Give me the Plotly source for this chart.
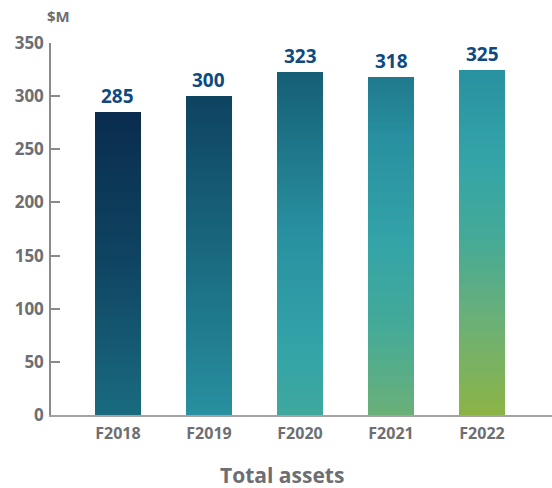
import numpy as np
import plotly.graph_objects as go

# ---- data ----
categories = ["F2018", "F2019", "F2020", "F2021", "F2022"]
values = [285, 300, 323, 318, 325]
y_ticks = [0, 50, 100, 150, 200, 250, 300, 350]
unit_label = "$M"
chart_title = "Total assets"

# ---- style ----
grad_stops = [
    (0.00, "#0a2c4e"),
    (0.15, "#0f4562"),
    (0.30, "#1a6b80"),
    (0.45, "#2890a0"),
    (0.60, "#34a4a8"),
    (0.72, "#44aa98"),
    (0.85, "#6ab078"),
    (1.00, "#8cb446"),
]
t_top = [0.00, 0.14, 0.25, 0.36, 0.46]
t_bot = [0.30, 0.45, 0.68, 0.85, 1.00]

def hex2rgb(h):
    h = h.lstrip("#")
    return np.array([int(h[i:i + 2], 16) for i in (0, 2, 4)], dtype=float)

stop_pos = np.array([s[0] for s in grad_stops])
stop_rgb = np.array([hex2rgb(s[1]) for s in grad_stops])

def grad_color(t):
    r = [np.interp(t, stop_pos, stop_rgb[:, c]) for c in range(3)]
    return "rgb(%d,%d,%d)" % tuple(int(round(v)) for v in r)

N = 90
seg_x, seg_y, seg_c = [], [], []
for i, v in enumerate(values):
    for k in range(N):
        f = k / N
        seg_x.append(i)
        seg_y.append(v * (1 - f))
        fm = (k + 0.5) / N
        seg_c.append(grad_color(t_top[i] + (t_bot[i] - t_top[i]) * fm))

GRAY = "#6d6e71"
LABEL_BLUE = "#0e4a7f"
FONT = "Open Sans"

fig = go.Figure()
fig.add_trace(go.Bar(
    x=seg_x, y=seg_y, width=0.505,
    marker=dict(color=seg_c, line=dict(width=0)),
    hoverinfo="skip", showlegend=False,
))

for i, v in enumerate(values):
    fig.add_annotation(
        x=i, y=v, xref="x", yref="y", text="<b>%d</b>" % v,
        showarrow=False, yanchor="bottom", yshift=1,
        font=dict(family=FONT, size=19, color=LABEL_BLUE),
    )

fig.add_annotation(
    x=0.014, y=1.072, xref="paper", yref="paper", text="<b>%s</b>" % unit_label,
    showarrow=False, xanchor="center", yanchor="middle",
    font=dict(family=FONT, size=15, color=GRAY),
)
fig.add_annotation(
    x=0.461, y=-0.162, xref="paper", yref="paper", text="<b>%s</b>" % chart_title,
    showarrow=False, xanchor="center", yanchor="middle",
    font=dict(family=FONT, size=21, color=GRAY),
)

fig.update_layout(
    width=552, height=488,
    margin=dict(l=51, r=0, t=43, b=73),
    paper_bgcolor="white", plot_bgcolor="white",
    barmode="overlay", bargap=0,
    font=dict(family=FONT, color=GRAY),
    xaxis=dict(
        range=[-0.736, 4.769],
        tickmode="array", tickvals=list(range(len(categories))),
        ticktext=["<b>%s</b>" % c for c in categories],
        tickfont=dict(family=FONT, size=16, color=GRAY),
        showgrid=False, zeroline=False,
        showline=True, linecolor="#a3a3a3", linewidth=2,
        ticks="", ticklabelstandoff=3,
    ),
    yaxis=dict(
        range=[0, 350],
        tickmode="array", tickvals=y_ticks,
        ticktext=["<b>%d</b>" % t for t in y_ticks],
        tickfont=dict(family=FONT, size=17, color=GRAY),
        showgrid=False, zeroline=False,
        showline=True, linecolor="#8a8a8a", linewidth=1.5,
        ticks="inside", ticklen=9, tickwidth=1.5, tickcolor="#8a8a8a",
        ticklabelstandoff=2,
    ),
)

fig.write_html("out.html")
